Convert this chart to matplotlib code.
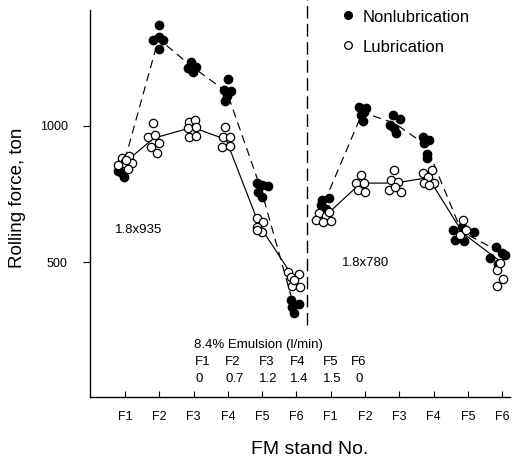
import matplotlib
matplotlib.use("Agg")
import matplotlib.pyplot as plt
import numpy as np

plt.rcParams['font.family'] = ['Liberation Sans', 'DejaVu Sans']

# ---------------- data ----------------
stand_labels = ['F1', 'F2', 'F3', 'F4', 'F5', 'F6', 'F1', 'F2', 'F3', 'F4', 'F5', 'F6']
yticks = [500, 1000]

# Nonlubrication individual measurements (stand index 1..12, offset, force)
nonlub_stand = [1, 1, 1,
                2, 2, 2, 2, 2,
                3, 3, 3, 3,
                4, 4, 4, 4, 4,
                5, 5, 5, 5, 5,
                6, 6, 6, 6,
                7, 7, 7, 7,
                8, 8, 8, 8, 8,
                9, 9, 9, 9, 9,
                10, 10, 10, 10, 10,
                11, 11, 11, 11, 11,
                12, 12, 12, 12, 12]
nonlub_dx = [-0.19, -0.03, -0.10,
             -0.02, -0.17, -0.02, 0.12, -0.02,
             -0.07, 0.08, -0.17, -0.02,
             0.00, -0.12, 0.08, -0.08, -0.02,
             -0.16, -0.01, 0.16, -0.01, -0.11,
             -0.17, 0.07, -0.08, -0.13,
             -0.24, -0.05, -0.29, -0.15,
             -0.17, 0.03, -0.12, -0.07, -0.02,
             -0.18, 0.01, -0.14, -0.28, -0.09,
             -0.30, -0.14, -0.28, -0.20, -0.18,
             -0.42, -0.16, 0.17, -0.38, -0.11,
             -0.17, 0.09, -0.35, -0.11, -0.01]
nonlub_force = [836, 814, 826,
                1371, 1316, 1326, 1314, 1282,
                1236, 1218, 1212, 1200,
                1173, 1132, 1130, 1090, 1110,
                792, 783, 779, 740, 758,
                360, 347, 311, 336,
                728, 734, 710, 694,
                1071, 1065, 1040, 1019, 1053,
                1040, 1025, 991, 1004, 975,
                961, 949, 936, 897, 881,
                618, 630, 612, 581, 578,
                556, 526, 514, 493, 532]

# Lubrication individual measurements
lub_stand = [1, 1, 1, 1, 1, 1, 1,
             2, 2, 2, 2, 2, 2,
             3, 3, 3, 3, 3, 3,
             4, 4, 4, 4, 4,
             5, 5, 5, 5, 5,
             6, 6, 6, 6, 6, 6,
             7, 7, 7, 7, 7, 7,
             8, 8, 8, 8, 8,
             9, 9, 9, 9, 9, 9,
             10, 10, 10, 10, 10, 10,
             11, 11, 11,
             12, 12, 12, 12]
lub_dx = [-0.10, 0.13, -0.03, 0.20, 0.10, -0.19, 0.03,
          -0.17, -0.34, -0.12, -0.02, -0.24, -0.08,
          -0.12, 0.05, -0.15, 0.08, -0.12, 0.06,
          -0.07, -0.14, 0.06, -0.16, 0.06,
          -0.14, 0.04, -0.14, -0.01, -0.16,
          -0.25, 0.07, -0.16, -0.13, 0.10, -0.06,
          -0.34, -0.15, -0.44, -0.21, 0.02, -0.05,
          -0.12, -0.26, -0.02, -0.21, 0.00,
          -0.16, -0.25, -0.04, -0.31, 0.04, -0.12,
          -0.30, -0.04, -0.17, -0.28, 0.01, -0.14,
          -0.13, -0.22, -0.06,
          -0.14, 0.04, -0.16, -0.06]
lub_force = [881, 890, 863, 865, 841, 857, 875,
             1010, 958, 967, 936, 924, 900,
             1016, 1020, 994, 995, 961, 963,
             995, 958, 961, 924, 926,
             661, 648, 630, 612, 618,
             464, 456, 444, 412, 407, 434,
             679, 669, 654, 648, 652, 685,
             820, 792, 789, 765, 758,
             838, 801, 795, 765, 758, 777,
             828, 838, 814, 792, 789, 783,
             654, 599, 618,
             471, 436, 412, 495]

# Trend lines, one per rolling schedule
nonlub_line_1 = [828, 1320, 1218, 1125, 765, 340]
lub_line_1 = [868, 955, 995, 950, 635, 440]
nonlub_line_2 = [720, 1050, 1010, 930, 612, 540]
lub_line_2 = [665, 790, 790, 810, 605, 505]

schedule_labels = ['1.8x935', '1.8x780']
emul_title = '8.4% Emulsion (l/min)'
emul_stands = ['F1', 'F2', 'F3', 'F4', 'F5', 'F6']
emul_rates = ['0', '0.7', '1.2', '1.4', '1.5', '0']

# ---------------- figure ----------------
fig = plt.figure(figsize=(5.26, 4.62), dpi=100)
ax = fig.add_axes([90 / 526, 1 - 397 / 462, 420 / 526, 387 / 462])
ax.set_xlim(-0.02, 12.23)
ax.set_ylim(4, 1426)

nonlub_x = np.array(nonlub_stand) + np.array(nonlub_dx)
lub_x = np.array(lub_stand) + np.array(lub_dx)


def stand_centers(stands, dx):
    stands = np.array(stands)
    dx = np.array(dx)
    return np.array([s + dx[stands == s].mean() for s in range(1, 13)])


nl_cx = stand_centers(nonlub_stand, nonlub_dx)
lb_cx = stand_centers(lub_stand, lub_dx)

MS = 6.0
dash = (0, (7, 4.5))
ax.plot(nl_cx[:6], nonlub_line_1, color='black', lw=0.85, linestyle=dash, zorder=2)
ax.plot(nl_cx[6:], nonlub_line_2, color='black', lw=0.85, linestyle=dash, zorder=2)
ax.plot(lb_cx[:6], lub_line_1, color='black', lw=0.85, zorder=2)
ax.plot(lb_cx[6:], lub_line_2, color='black', lw=0.85, zorder=2)

ax.plot(nonlub_x, nonlub_force, 'o', color='black', ms=MS, zorder=3, linestyle='none')
ax.plot(lub_x, lub_force, 'o', mfc='white', mec='black', mew=0.9, ms=MS,
        zorder=4, linestyle='none')

# divider between the two schedules
ax.plot([6.3, 6.3], [268, 1465], color='black', lw=1.0, linestyle=(0, (9, 4)),
        clip_on=False, zorder=2)

# legend (manual)
ax.plot([7.5], [1408], 'o', color='black', ms=5.5, clip_on=False)
ax.text(7.92, 1400, 'Nonlubrication', fontsize=12, va='center', ha='left')
ax.plot([7.5], [1296], 'o', mfc='white', mec='black', mew=0.9, ms=5.5, clip_on=False)
ax.text(7.92, 1290, 'Lubrication', fontsize=12, va='center', ha='left')

# schedule labels
ax.text(0.71, 618, schedule_labels[0], fontsize=9.5, va='center', ha='left')
ax.text(7.33, 496, schedule_labels[1], fontsize=9.5, va='center', ha='left')

# emulsion table
ax.text(3.01, 195, emul_title, fontsize=9.5, va='center', ha='left')
col_x = [3.05, 3.92, 4.92, 5.82, 6.78, 7.6]
val_x = [3.05, 3.92, 4.92, 5.82, 6.78, 7.72]
for s, r, cx, vx in zip(emul_stands, emul_rates, col_x, val_x):
    ax.text(cx, 132, s, fontsize=9.5, va='center', ha='left')
    ax.text(vx, 70, r, fontsize=9.5, va='center', ha='left')

# axes styling
ax.spines['top'].set_visible(False)
ax.spines['right'].set_visible(False)
ax.spines['left'].set_linewidth(1.0)
ax.spines['bottom'].set_linewidth(1.0)

ax.set_xticks(range(1, 13))
ax.set_xticklabels(stand_labels, fontsize=9)
ax.tick_params(axis='x', direction='in', length=4, pad=10, width=0.8)
ax.set_yticks(yticks)
ax.set_yticklabels([str(v) for v in yticks], fontsize=9)
ax.tick_params(axis='y', direction='out', length=5, pad=11, width=0.8)

fig.text(18 / 526, 1 - 198 / 462, 'Rolling force, ton', rotation=90,
         fontsize=13.5, va='center', ha='center')
fig.text(310 / 526, 1 - 450 / 462, 'FM stand No.', fontsize=14,
         va='center', ha='center')

fig.savefig('out.png', dpi=100)
